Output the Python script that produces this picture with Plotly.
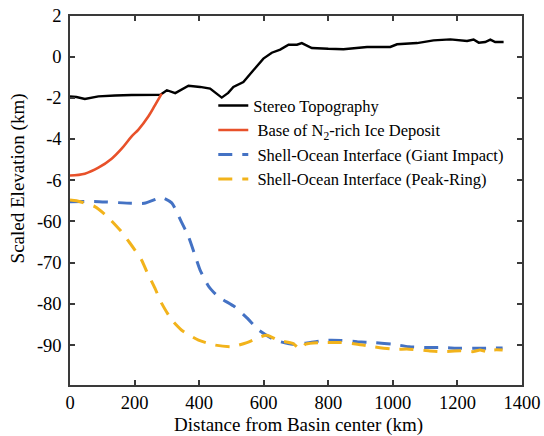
import plotly.graph_objects as go

# ---- data (km) ----
topo_x = [0, 20, 46, 72, 88, 140, 191, 280, 300, 326, 367, 403, 434, 470, 490, 506, 537, 568,
          599, 625, 651, 677, 703, 718, 749, 800, 847, 920, 992, 1013, 1075, 1126, 1178, 1230,
          1250, 1266, 1286, 1302, 1317, 1343]
topo_y = [-1.93, -1.95, -2.05, -1.95, -1.92, -1.88, -1.85, -1.84, -1.62, -1.76, -1.40, -1.46,
          -1.54, -1.98, -1.75, -1.46, -1.22, -0.65, -0.08, 0.21, 0.36, 0.60, 0.60, 0.68, 0.44,
          0.40, 0.38, 0.49, 0.49, 0.62, 0.68, 0.81, 0.86, 0.78, 0.85, 0.70, 0.73, 0.85, 0.73, 0.73]

base_x = [0, 46, 88, 129, 160, 191, 212, 243, 263, 284]
base_y = [-5.78, -5.69, -5.40, -4.96, -4.47, -3.87, -3.54, -2.89, -2.36, -1.79]

giant_x = [0, 90, 190, 230, 270, 285, 315, 345, 367, 387, 403, 430, 460, 510, 548, 585, 635,
           690, 725, 785, 840, 890, 940, 1000, 1050, 1110, 1150, 1210, 1260, 1340]
giant_y = [-55.2, -55.2, -55.6, -55.6, -54.5, -54.2, -55.5, -60.1, -63.7, -68.2, -71.8, -75.8,
           -78.3, -80.7, -83.4, -86.4, -88.8, -89.8, -89.6, -88.9, -88.9, -89.2, -89.4, -89.8,
           -90.4, -90.6, -90.6, -90.8, -90.8, -90.7]

peak_x = [0, 20, 77, 114, 155, 186, 222, 238, 263, 284, 315, 346, 398, 449, 500, 548, 590, 610,
          646, 690, 713, 730, 790, 840, 890, 940, 1000, 1050, 1110, 1150, 1210, 1250, 1270, 1290,
          1310, 1340]
peak_y = [-54.8, -55.0, -56.4, -58.7, -62.1, -65.3, -69.4, -72.2, -76.2, -79.9, -83.9, -86.4,
          -88.8, -90.0, -90.4, -89.4, -88.0, -87.6, -88.9, -89.6, -91.0, -89.8, -89.4, -89.4,
          -89.8, -90.4, -91.0, -91.0, -91.4, -91.6, -91.4, -91.6, -91.2, -91.6, -91.2, -91.2]

x_ticks = [0, 200, 400, 600, 800, 1000, 1200, 1400]
y_top_ticks = [2, 0, -2, -4, -6]
y_bot_ticks = [-60, -70, -80, -90]

FONT = "Liberation Serif"
AX = "#3a3a3a"

fig = go.Figure()
fig.add_trace(go.Scatter(x=topo_x, y=topo_y, xaxis="x2", yaxis="y", mode="lines",
                         line=dict(color="black", width=2.4),
                         name="Stereo Topography", legendgroup="a"))
fig.add_trace(go.Scatter(x=base_x, y=base_y, xaxis="x2", yaxis="y", mode="lines",
                         line=dict(color="#E8512A", width=2.6, shape="spline"),
                         name="\u00a0Base of N<sub>2</sub>-rich Ice Deposit", legendgroup="b"))
fig.add_trace(go.Scatter(x=giant_x, y=giant_y, xaxis="x", yaxis="y2", mode="lines",
                         line=dict(color="#4472C4", width=3, dash="14px,10px", shape="spline", smoothing=0.6),
                         name="\u00a0Shell-Ocean Interface (Giant Impact)", legendgroup="c"))
fig.add_trace(go.Scatter(x=peak_x, y=peak_y, xaxis="x", yaxis="y2", mode="lines",
                         line=dict(color="#F2B31B", width=3, dash="14px,10px", shape="spline", smoothing=0.6),
                         name="\u00a0Shell-Ocean Interface (Peak-Ring)", legendgroup="d"))

split = 0.523
common = dict(showgrid=False, zeroline=False, showline=True, linecolor=AX, linewidth=1.5,
              ticks="inside", ticklen=5, tickwidth=1.5, tickcolor=AX, automargin=False,
              tickfont=dict(family=FONT, size=18.5, color="black"))

fig.update_layout(
    width=544, height=436,
    margin=dict(l=70, r=22, t=16, b=51, autoexpand=False),
    paper_bgcolor="white", plot_bgcolor="white",
    font=dict(family=FONT, color="black"),
    xaxis=dict(domain=[0, 1], anchor="y2", range=[0, 1400], tickvals=x_ticks,
               ticktext=[str(v) for v in x_ticks], **common),
    xaxis2=dict(domain=[0, 1], anchor="y", range=[0, 1400], tickvals=x_ticks, side="top",
                matches="x", showticklabels=False, **common),
    yaxis=dict(domain=[split, 1], anchor="x2", range=[-6.585, 2], tickvals=y_top_ticks,
               ticktext=[str(v) for v in y_top_ticks],
               mirror="ticks", ticklabelstandoff=3, **common),
    yaxis2=dict(domain=[0, split], anchor="x", range=[-99.7, -52.86], tickvals=y_bot_ticks,
                ticktext=[str(v) for v in y_bot_ticks],
                mirror="ticks", ticklabelstandoff=3, **common),
    legend=dict(x=0.317, y=0.804, xanchor="left", yanchor="top", bgcolor="rgba(0,0,0,0)",
                traceorder="grouped", tracegroupgap=0,
                font=dict(family=FONT, size=16.5, color="black")),
    annotations=[
        dict(text="Scaled Elevation (km)", xref="paper", yref="paper", x=-0.115, y=0.56,
             textangle=-90, showarrow=False, xanchor="center", yanchor="middle",
             font=dict(family=FONT, size=19, color="black")),
        dict(text="Distance from Basin center (km)", xref="paper", yref="paper", x=0.505, y=-0.108,
             showarrow=False, xanchor="center", yanchor="middle",
             font=dict(family=FONT, size=19, color="black")),
    ],
)

fig.write_html("out.html", config={"displayModeBar": False},
               post_script="document.body.style.margin='0';document.body.style.padding='0';"
                           "document.documentElement.style.overflow='hidden';")
